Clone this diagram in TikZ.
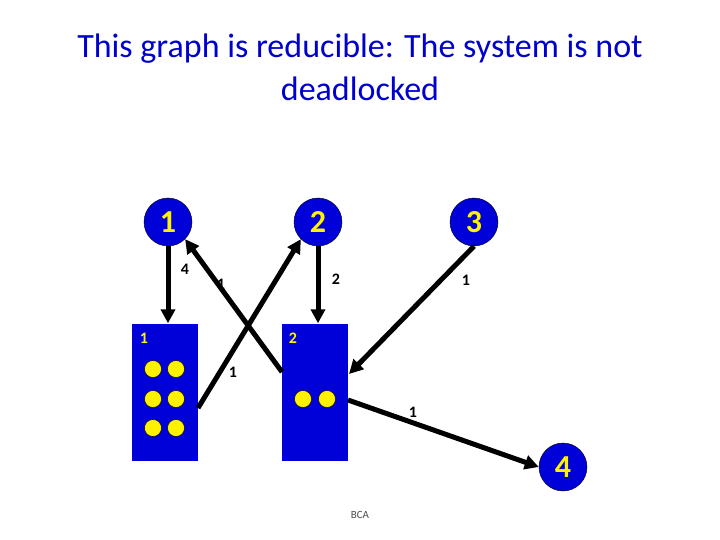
\documentclass[tikz,border=0pt]{standalone}
\usepackage{fontspec}
\setmainfont{Carlito}
\usetikzlibrary{arrows.meta}
\begin{document}
\begin{tikzpicture}[x=1pt,y=-1pt,
  proc/.style={circle,draw=black,fill=blue!85!black,minimum size=48pt,inner sep=0pt,text=yellow,font=\bfseries\fontsize{32}{32}\selectfont},
  res/.style={rectangle,draw=none,fill=blue!85!black,minimum width=66pt,minimum height=137pt,inner sep=0pt},
  dot/.style={circle,draw=black,fill=yellow,minimum size=17pt,inner sep=0pt},
  arr/.style={-{Triangle[length=14pt,width=14pt]},line width=5pt,black},
  lab/.style={font=\bfseries\fontsize{16}{16}\selectfont},
  rlab/.style={font=\bfseries\fontsize{16}{16}\selectfont,text=yellow}]
\useasboundingbox (0,0) rectangle (720,540);
\node[text=blue!80!black,font=\fontsize{34}{43}\selectfont,align=center] (title) at (360,67) {This graph is reducible: The system is not\\deadlocked};
\node[proc] (p1) at (168,222) {1};
\node[proc] (p2) at (318,222) {2};
\node[proc] (p3) at (474,222) {3};
\node[proc] (p4) at (563,467) {4};
\node[res] (r1) at (165,392) {};
\node[res] (r2) at (315,392) {};
\node[rlab] (r1l) at (144,338) {1};
\node[rlab] (r2l) at (293,338) {2};
\foreach \x/\y [count=\i] in {153/369,176/369,153/399,176/399,153/428,176/428}
  \node[dot] (d\i) at (\x,\y) {};
\node[dot] (e1) at (303,399) {};
\node[dot] (e2) at (327,399) {};
\coordinate (r1a) at (198,408);
\coordinate (r2a) at (282,372);
\coordinate (r2b) at (348,400);
\coordinate (r2c) at (349,374);
\draw[arr] (p1.south) -- (r1.north -| p1);
\draw[arr] (p2.south) -- (r2.north -| p2);
\draw[arr] (p3.south) -- (r2c);
\draw[arr] (r1a) -- (p2.south west);
\draw[arr] (r2a) -- (p1.south east);
\draw[arr] (r2b) -- (p4.west);
\node[lab] (l1) at (185,269) {4};
\node[lab] (l2) at (221,284) {1};
\node[lab] (l3) at (336,279) {2};
\node[lab] (l4) at (466,280) {1};
\node[lab] (l5) at (233,372) {1};
\node[lab] (l6) at (413,412) {1};
\node[text=black!70,font=\fontsize{11}{11}\selectfont] (bca) at (360,515) {BCA};
\end{tikzpicture}
\end{document}
